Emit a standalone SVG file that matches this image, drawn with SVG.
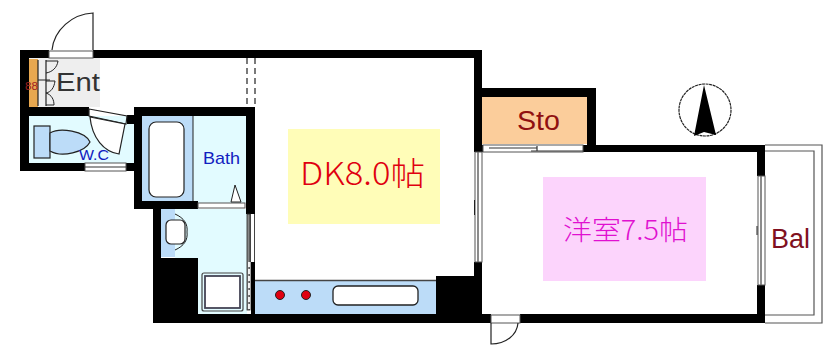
<svg xmlns="http://www.w3.org/2000/svg" width="823" height="351" viewBox="0 0 823 351">
<style>
.w{fill:#000}
.o{fill:none;stroke:#222;stroke-width:1.2}
.th{stroke:#333;stroke-width:1.2}
.gl{fill:#fff;stroke:#555;stroke-width:1}
.blue{fill:#bcdcf8;stroke:#222;stroke-width:1.2}
.t{font-family:"Liberation Sans","Noto Sans CJK JP",sans-serif}
.j{font-family:"Noto Sans CJK JP","Liberation Sans",sans-serif;font-weight:300}
</style>
<rect width="823" height="351" fill="#fff"/>
<g id="floors">
<rect x="29" y="58" width="71" height="49" fill="#eeeeee"/>
<rect x="29" y="116" width="105" height="47" fill="#e2fbff"/>
<rect x="142" y="116" width="51" height="85" fill="#bcdcf8"/>
<rect x="193" y="116" width="53" height="87" fill="#e2fbff"/>
<path d="M161 209H247V314H198V258H175V257H161Z" fill="#e2fbff"/>
<path d="M161 209H175V257H161Z" fill="#bcdcf8"/>
<rect x="255" y="281" width="181" height="33" fill="#bcdcf8"/>
<rect x="482" y="97" width="105" height="47" fill="#fbcd9b"/>
</g>
<g id="walls">
<rect class="w" x="20" y="50" width="29" height="8"/>
<rect class="w" x="93" y="50" width="389" height="8"/>
<rect class="w" x="20" y="50" width="9" height="121"/>
<rect class="w" x="20" y="107" width="69" height="9"/>
<rect class="w" x="20" y="163" width="66" height="8"/>
<rect class="w" x="126" y="163" width="9" height="8"/>
<rect class="w" x="127" y="115" width="8" height="9"/>
<rect class="w" x="134" y="107" width="121" height="9"/>
<rect class="w" x="134" y="107" width="8" height="102"/>
<rect class="w" x="246" y="107" width="9" height="107"/>
<rect class="w" x="134" y="201" width="64" height="8"/>
<rect class="w" x="153" y="209" width="8" height="114"/>
<rect class="w" x="153" y="258" width="45" height="65"/>
<rect class="w" x="153" y="314" width="338" height="9"/>
<rect class="w" x="520" y="314" width="245" height="9"/>
<rect class="w" x="251" y="262" width="4" height="52"/>
<rect class="w" x="436" y="276" width="46" height="40"/>
<rect class="w" x="474" y="58" width="8" height="94"/>
<rect class="w" x="474" y="262" width="8" height="60"/>
<rect class="w" x="474" y="88" width="122" height="9"/>
<rect class="w" x="587" y="88" width="9" height="64"/>
<rect class="w" x="474" y="145" width="9" height="7"/>
<rect class="w" x="583" y="145" width="182" height="7"/>
<rect class="w" x="757" y="145" width="8" height="31"/>
<rect class="w" x="757" y="285" width="8" height="38"/>
</g>
<g id="connectors">
<rect class="gl" x="49" y="51" width="44" height="7"/>
<path class="o" d="M93 50V13C72 14 54 30 52 50"/>
<rect class="gl" x="85" y="163" width="41" height="8"/>
<path class="th" d="M85 167H126" fill="none"/>
<rect class="gl" x="198" y="203" width="47" height="5"/>
<path class="o" d="M89 109L127 116L126 124L89 116Z" fill="#fff"/>
<path d="M90 117L125 124L119 154C104 152 92 138 90 117Z" fill="#fff" stroke="#222" stroke-width="1.2"/>
<rect x="247" y="214" width="3" height="96" fill="#888" stroke="#222" stroke-width=".8"/>
<path d="M250.500 214V262M254.500 214V262" stroke="#444" stroke-width="1" fill="none"/>
<path d="M249 262V310" stroke="#fff" stroke-width="1.800" stroke-dasharray="5 2" fill="none"/>
<path d="M247 58V104M255 58V104" stroke="#222" stroke-width="1.2" stroke-dasharray="6 4" fill="none"/>
<rect class="gl" x="475" y="152" width="7" height="110"/>
<path d="M478 152V262" stroke="#666" stroke-width="1.5"/>
<path d="M474.500 200V215" stroke="#222"/>
<rect class="gl" x="758" y="176" width="7" height="109"/>
<path d="M761 176V285" stroke="#666" stroke-width="1.500"/>
<path d="M757 226V235" stroke="#222"/>
<rect class="gl" x="483" y="145" width="100" height="7"/>
<path d="M489 148H537M531 151H583M537 146V151" stroke="#333" stroke-width="1.200"/>
<rect class="gl" x="491" y="315" width="29" height="8"/>
<path class="o" d="M491 323V344C506 344 517 335 518 323"/>
<path d="M765 145H822V323H765M765 151H814V315H765" fill="none" stroke="#555" stroke-width="1.200"/>
</g>
<g id="entrance">
<rect x="29" y="59" width="9" height="48" fill="#e8a850"/>
<path d="M38 60V106M46 60V106M38 80H50" stroke="#222" stroke-width="1.200" fill="none"/>
<path d="M46 61H58C57 68 52 72 46 73M46 81H55C54 88 51 92 46 93M46 93C52 95 54 100 54 105H46" stroke="#222" fill="none"/>
<text x="25" y="90" class="t" font-size="10" fill="#a02020" textLength="13" lengthAdjust="spacingAndGlyphs">88</text>
<text x="56" y="91" class="t" font-size="26" fill="#333" textLength="44" lengthAdjust="spacingAndGlyphs">Ent</text>
</g>
<g id="wc">
<rect class="blue" x="34" y="126" width="16" height="32"/>
<path class="blue" d="M50 133C60 127 85 131 90 142C85 152 62 158 50 151Z"/>
<text x="79" y="160" class="t" font-size="15" fill="#1020c0" textLength="30" lengthAdjust="spacingAndGlyphs">W.C</text>
</g>
<g id="bath">
<rect x="149" y="122" width="35" height="75" rx="7" fill="#fff" stroke="#222" stroke-width="1.200"/>
<path d="M193 116V201" stroke="#222"/>
<text x="203" y="164" class="t" font-size="17" fill="#1020c0" textLength="37" lengthAdjust="spacingAndGlyphs">Bath</text>
<path d="M231 202L235 185L241 202Z" fill="#fff" stroke="#222"/>
</g>
<g id="wash">
<rect x="166" y="220" width="19" height="24" rx="5" fill="#fff" stroke="#222" stroke-width="1.200"/>
<path d="M175 214C184 218 188 224 187 232C188 240 184 246 175 250" fill="none" stroke="#222"/>
<rect x="202" y="273" width="41" height="38" rx="2" fill="none" stroke="#444" stroke-width="1.200"/>
<rect x="205" y="276" width="35" height="32" fill="#fff" stroke="#445" stroke-width="1.800"/>
</g>
<g id="kitchen">
<path d="M255 280.500H436" stroke="#444" stroke-width="1.500"/>
<circle cx="280" cy="295" r="4.500" fill="#e00010" stroke="#222"/>
<circle cx="306" cy="295" r="4.500" fill="#e00010" stroke="#222"/>
<rect x="333" y="286" width="85" height="19" rx="5" fill="#fff" stroke="#222" stroke-width="1.300"/>
</g>
<g id="dk">
<rect x="288" y="129" width="152" height="95" fill="#fffdb8"/>
<text x="300" y="185" class="j" font-size="32" fill="#e00010" textLength="125" lengthAdjust="spacingAndGlyphs">DK8.0帖</text>
</g>
<g id="sto">
<text x="517" y="130" class="t" font-size="27" fill="#901010" textLength="43" lengthAdjust="spacingAndGlyphs">Sto</text>
</g>
<g id="room">
<rect x="543" y="177" width="163" height="104" fill="#fcd4fc"/>
<text x="563" y="240" class="j" font-size="27" fill="#e010d0" textLength="125" lengthAdjust="spacingAndGlyphs">洋室7.5帖</text>
</g>
<g id="balcony">
<text x="771" y="248" class="t" font-size="27" fill="#801020" textLength="39" lengthAdjust="spacingAndGlyphs">Bal</text>
</g>
<g id="north">
<circle cx="705" cy="110" r="26" fill="#fff" stroke="#222" stroke-width="1.200" stroke-dasharray="3 .6"/>
<path d="M704 85L716 135L704 132L694 136Z" fill="#000"/>
</g>
</svg>
